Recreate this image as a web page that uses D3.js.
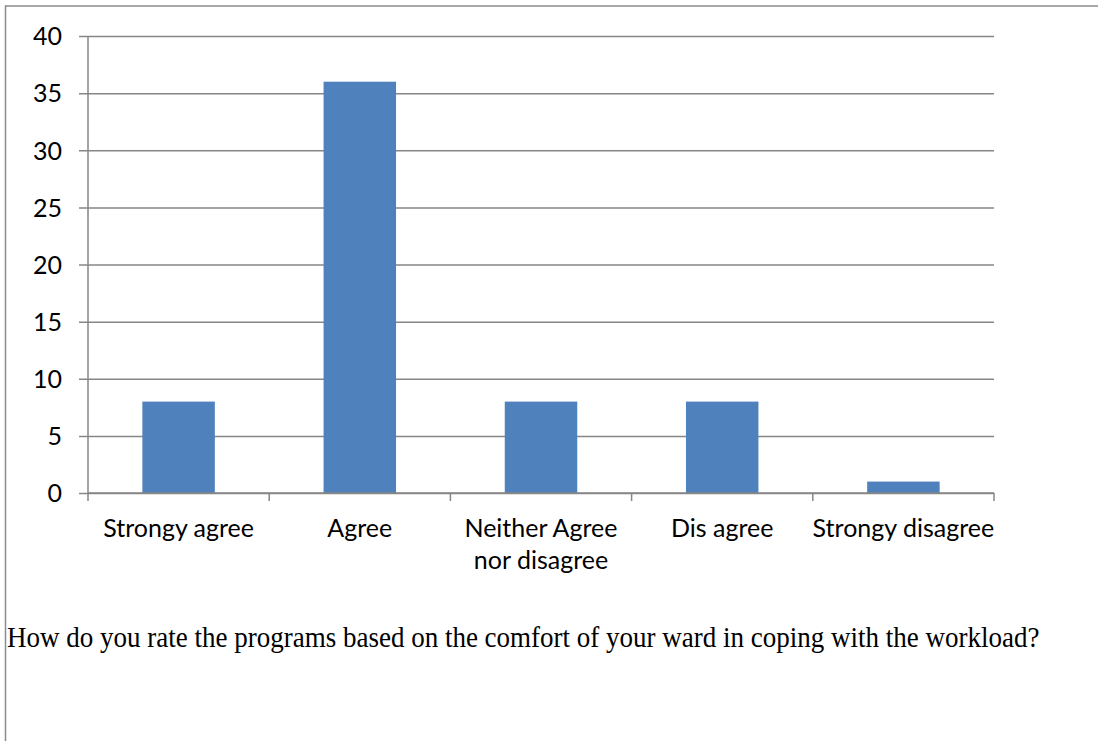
<!DOCTYPE html>
<html><head><meta charset="utf-8">
<script src="https://cdn.jsdelivr.net/npm/d3@7"></script>
<style>body{margin:0;background:#fff}svg{display:block}</style>
</head><body>
<svg id="c" width="1098" height="741"></svg>
<script>
const categories = ["Strongy agree", "Agree", "Neither Agree\nnor disagree", "Dis agree", "Strongy disagree"];
const values = [8, 36, 8, 8, 1];
const yTicks = [0, 5, 10, 15, 20, 25, 30, 35, 40];
const caption = "How do you rate the programs based on the comfort of your ward in coping with the workload?";

const svg = d3.select("#c");
const pL = 88, pR = 994, pT = 36, pB = 493;
const x = d3.scaleBand().domain(categories).range([pL, pR]).paddingInner(0.6).paddingOuter(0.3);
const xb = d3.scaleBand().domain(categories).range([pL, pR]);
const y = d3.scaleLinear().domain([0, 40]).range([pB, pT]);
const grid = "#868686";
const sans = "Lato, 'Open Sans', sans-serif";

// frame
svg.append("line").attr("x1", 5.5).attr("x2", 5.5).attr("y1", 5.5).attr("y2", 741).attr("stroke", "#8c8c8c").attr("stroke-width", 1.5);
svg.append("line").attr("x1", 5).attr("x2", 1098).attr("y1", 6).attr("y2", 6).attr("stroke", "#8c8c8c").attr("stroke-width", 1.5);

// gridlines + y axis
const yAxis = d3.axisLeft(y).tickValues(yTicks).tickSize(-(pR - pL)).tickSizeOuter(0).tickPadding(0);
const gy = svg.append("g").attr("transform", `translate(${pL},0)`).call(yAxis);
gy.select(".domain").remove();
gy.selectAll(".tick line").attr("stroke", grid).attr("stroke-width", 1.5).attr("x1", -9);
gy.selectAll(".tick text").attr("x", -26).attr("font-family", sans).attr("font-size", 25).attr("fill", "#000").attr("dy", "0.35em");
svg.append("line").attr("x1", pL).attr("x2", pL).attr("y1", pT).attr("y2", pB).attr("stroke", grid).attr("stroke-width", 1.5);

// bars
svg.append("g").selectAll("rect").data(values).join("rect")
  .attr("x", (d, i) => x(categories[i]))
  .attr("width", x.bandwidth())
  .attr("y", d => y(d))
  .attr("height", d => y(0) - y(d))
  .attr("fill", "#4F81BD");

// x axis
const boundaries = categories.map(c => xb(c)).concat([pR]);
svg.append("line").attr("x1", pL).attr("x2", pR).attr("y1", pB).attr("y2", pB).attr("stroke", grid).attr("stroke-width", 1.5);
svg.append("g").selectAll("line").data(boundaries).join("line")
  .attr("x1", d => d).attr("x2", d => d).attr("y1", pB).attr("y2", pB + 8)
  .attr("stroke", grid).attr("stroke-width", 1.5);
const lab = svg.append("g").selectAll("text").data(categories).join("text")
  .attr("x", d => xb(d) + xb.bandwidth() / 2)
  .attr("y", 537)
  .attr("text-anchor", "middle")
  .attr("font-family", sans).attr("font-size", 25).attr("fill", "#000");
lab.each(function(d) {
  const parts = d.split("\n");
  d3.select(this).selectAll("tspan").data(parts).join("tspan")
    .attr("x", xb(d) + xb.bandwidth() / 2)
    .attr("dy", (p, i) => i === 0 ? 0 : 32)
    .text(p => p);
});

// caption: size to natural width 1033, then stretch vertically to match glyph height
const capG = svg.append("g");
const cap = capG.append("text").attr("x", 0).attr("y", 0)
  .attr("font-family", "'Liberation Serif', 'Times New Roman', serif").attr("font-size", 30)
  .attr("fill", "#000").text(caption);
const natural = cap.node().getComputedTextLength();
const fs = 30 * 1033 / natural;
cap.attr("font-size", fs);
const sy = 30 / fs;
capG.attr("transform", `translate(7,647) scale(1,${sy})`);
</script>
</body></html>
